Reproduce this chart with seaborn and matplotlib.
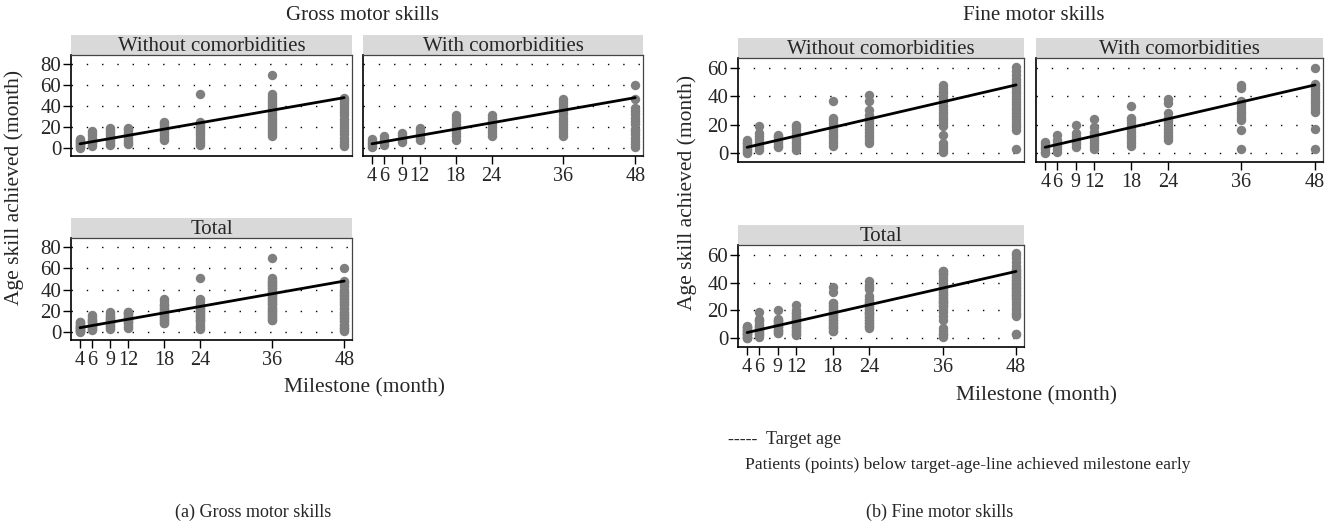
import matplotlib
matplotlib.use("Agg")
import matplotlib.pyplot as plt
import pandas as pd
import seaborn as sns

# ---------------- data ----------------
milestones = [4, 6, 9, 12, 18, 24, 36, 48]
target_age = [4, 6, 9, 12, 18, 24, 36, 48]

gross_without = {
    4: [0, 1, 2, 3, 4, 5, 6, 7, 8, 9],
    6: [2, 3, 5, 6, 8, 10, 12, 14, 16],
    9: [3, 4, 6, 8, 9, 11, 13, 15, 17, 19],
    12: [4, 5, 7, 9, 11, 12, 14, 16, 18, 19],
    18: [8, 10, 12, 14, 16, 18, 20, 22, 24, 25],
    24: [3, 5, 7, 9, 11, 13, 15, 17, 19, 21, 23, 25, 51],
    36: [11, 13, 15, 17, 19, 21, 23, 25, 27, 29, 31, 33, 35, 37, 39, 41, 43, 45, 47, 49, 51, 70],
    48: [2, 4, 7, 10, 13, 16, 19, 22, 25, 28, 31, 34, 37, 40, 43, 46, 48],
}
gross_with = {
    4: [1, 2, 4, 5, 7, 9],
    6: [3, 5, 7, 9, 11],
    9: [6, 8, 10, 12, 14],
    12: [8, 10, 12, 14, 17, 19],
    18: [8, 11, 14, 17, 20, 23, 26, 29, 31],
    24: [11, 14, 17, 20, 23, 26, 29, 31],
    36: [11, 14, 17, 20, 23, 26, 29, 32, 35, 38, 41, 44, 47],
    48: [1, 4, 7, 10, 13, 16, 18, 23, 26, 29, 32, 35, 38, 47, 60],
}
fine_without = {
    4: [0, 1, 2, 3, 4, 5, 6, 7, 8, 9],
    6: [2, 4, 6, 8, 10, 12, 14, 19],
    9: [4, 5, 6, 8, 9, 11, 12, 13],
    12: [2, 4, 6, 8, 10, 12, 14, 16, 18, 20],
    18: [5, 7, 9, 11, 13, 15, 17, 19, 21, 23, 25, 37],
    24: [7, 9, 11, 13, 15, 17, 19, 21, 23, 25, 27, 30, 37, 41],
    36: [1, 3, 5, 7, 13, 19, 21, 23, 25, 27, 29, 31, 33, 36, 38, 40, 42, 44, 46, 48],
    48: [3, 16, 18, 20, 22, 24, 26, 28, 30, 32, 34, 36, 38, 40, 42, 44, 46, 48, 50, 52, 55, 58, 61],
}
fine_with = {
    4: [0, 1, 3, 4, 6, 8],
    6: [1, 3, 5, 7, 9, 13],
    9: [4, 6, 8, 10, 12, 14, 20],
    12: [3, 5, 7, 9, 11, 13, 15, 18, 24],
    18: [5, 7, 9, 11, 13, 15, 17, 19, 21, 23, 25, 33],
    24: [9, 11, 13, 15, 17, 19, 21, 23, 25, 28, 35, 38],
    36: [3, 16, 23, 25, 27, 29, 31, 33, 35, 37, 46, 48],
    48: [3, 17, 29, 31, 33, 35, 37, 39, 41, 43, 45, 47, 49, 60],
}
gross_yticks = [0, 20, 40, 60, 80]
fine_yticks = [0, 20, 40, 60]

# ---------------- helpers ----------------
def to_df(*groups):
    rows = [(m, v) for g in groups for m in milestones for v in g[m]]
    return pd.DataFrame(rows, columns=["milestone", "age"])

sns.set_theme(style="white")
plt.rcParams["font.family"] = ["Liberation Serif", "DejaVu Serif"]

W, H = 1338, 527
fig = plt.figure(figsize=(W / 100, H / 100), dpi=100)


def rect(x0, y0, x1, y1):
    return [x0 / W, 1 - y1 / H, (x1 - x0) / W, (y1 - y0) / H]


def panel(box, data, title, yticks, ylim, show_x, show_y, strip_h=20):
    x0, y0, x1, y1 = box
    sax = fig.add_axes(rect(x0, y0 - strip_h, x1, y0))
    sax.set_facecolor("#d9d9d9")
    sax.set_xticks([])
    sax.set_yticks([])
    for s in sax.spines.values():
        s.set_visible(False)
    sax.text(0.5, 0.42, title, ha="center", va="center", fontsize=15,
             transform=sax.transAxes)

    ax = fig.add_axes(rect(*box))
    ax.set_facecolor("white")
    for y in yticks:
        ax.axhline(y, color="black", lw=1.0, ls=(0, (1, 10)), zorder=0)
    sns.scatterplot(data=data, x="milestone", y="age", ax=ax, color="#7f7f7f",
                    s=46, linewidth=0, legend=False, zorder=2)
    sns.lineplot(x=target_age, y=target_age, ax=ax, color="black", lw=2,
                 zorder=3, legend=False)
    ax.set_xlim(2.5, 49.3)
    ax.set_ylim(*ylim)
    ax.set_xlabel("")
    ax.set_ylabel("")
    if show_y:
        ax.set_yticks(yticks)
        ax.set_yticklabels([str(t) for t in yticks], fontsize=15)
        ax.tick_params(axis="y", left=True, length=6, width=1, color="black", pad=1)
    else:
        ax.set_yticks([])
    if show_x:
        ax.set_xticks(milestones)
        ax.set_xticklabels([str(m) for m in milestones], fontsize=14.5)
        ax.tick_params(axis="x", bottom=True, length=6, width=1, color="black", pad=2)
    else:
        ax.set_xticks([])
    for side in ["left", "bottom"]:
        ax.spines[side].set_color("black")
        ax.spines[side].set_linewidth(1.2)
    for side in ["top", "right"]:
        ax.spines[side].set_color("#444444")
        ax.spines[side].set_linewidth(0.9)
    return ax


g_ylim = (-7.6, 88.6)
f_ylim = (-6.4, 67.0)

# Gross motor skills
panel((71, 55, 352, 156), to_df(gross_without), "Without comorbidities", gross_yticks, g_ylim, False, True)
panel((363, 55, 643, 156), to_df(gross_with), "With comorbidities", gross_yticks, g_ylim, True, False)
panel((71, 238, 352, 340), to_df(gross_without, gross_with), "Total", gross_yticks, g_ylim, True, True)

# Fine motor skills
panel((738, 58, 1024, 162), to_df(fine_without), "Without comorbidities", fine_yticks, f_ylim, False, True)
panel((1036, 58, 1323, 162), to_df(fine_with), "With comorbidities", fine_yticks, f_ylim, True, False)
panel((738, 245, 1024, 347), to_df(fine_without, fine_with), "Total", fine_yticks, f_ylim, True, True)


def ftext(x, y, s, size=14, **kw):
    fig.text(x / W, 1 - y / H, s, fontsize=size, ha=kw.pop("ha", "center"),
             va=kw.pop("va", "center"), **kw)


ftext(362, 15, "Gross motor skills", size=15)
ftext(1034, 16, "Fine motor skills", size=15)
ftext(14, 187, "Age skill achieved (month)", rotation=90, size=15.5)
ftext(687, 192, "Age skill achieved (month)", rotation=90, size=15.5)
ftext(364, 388, "Milestone (month)", size=15.5)
ftext(1037, 396, "Milestone (month)", size=15.5)
ftext(728, 440, "-----  Target age", size=13, ha="left")
ftext(745, 465, "Patients (points) below target-age-line achieved milestone early", size=12.6, ha="left")
ftext(253, 512, "(a) Gross motor skills", size=13)
ftext(940, 512, "(b) Fine motor skills", size=13)

fig.savefig("out.png", dpi=100)
